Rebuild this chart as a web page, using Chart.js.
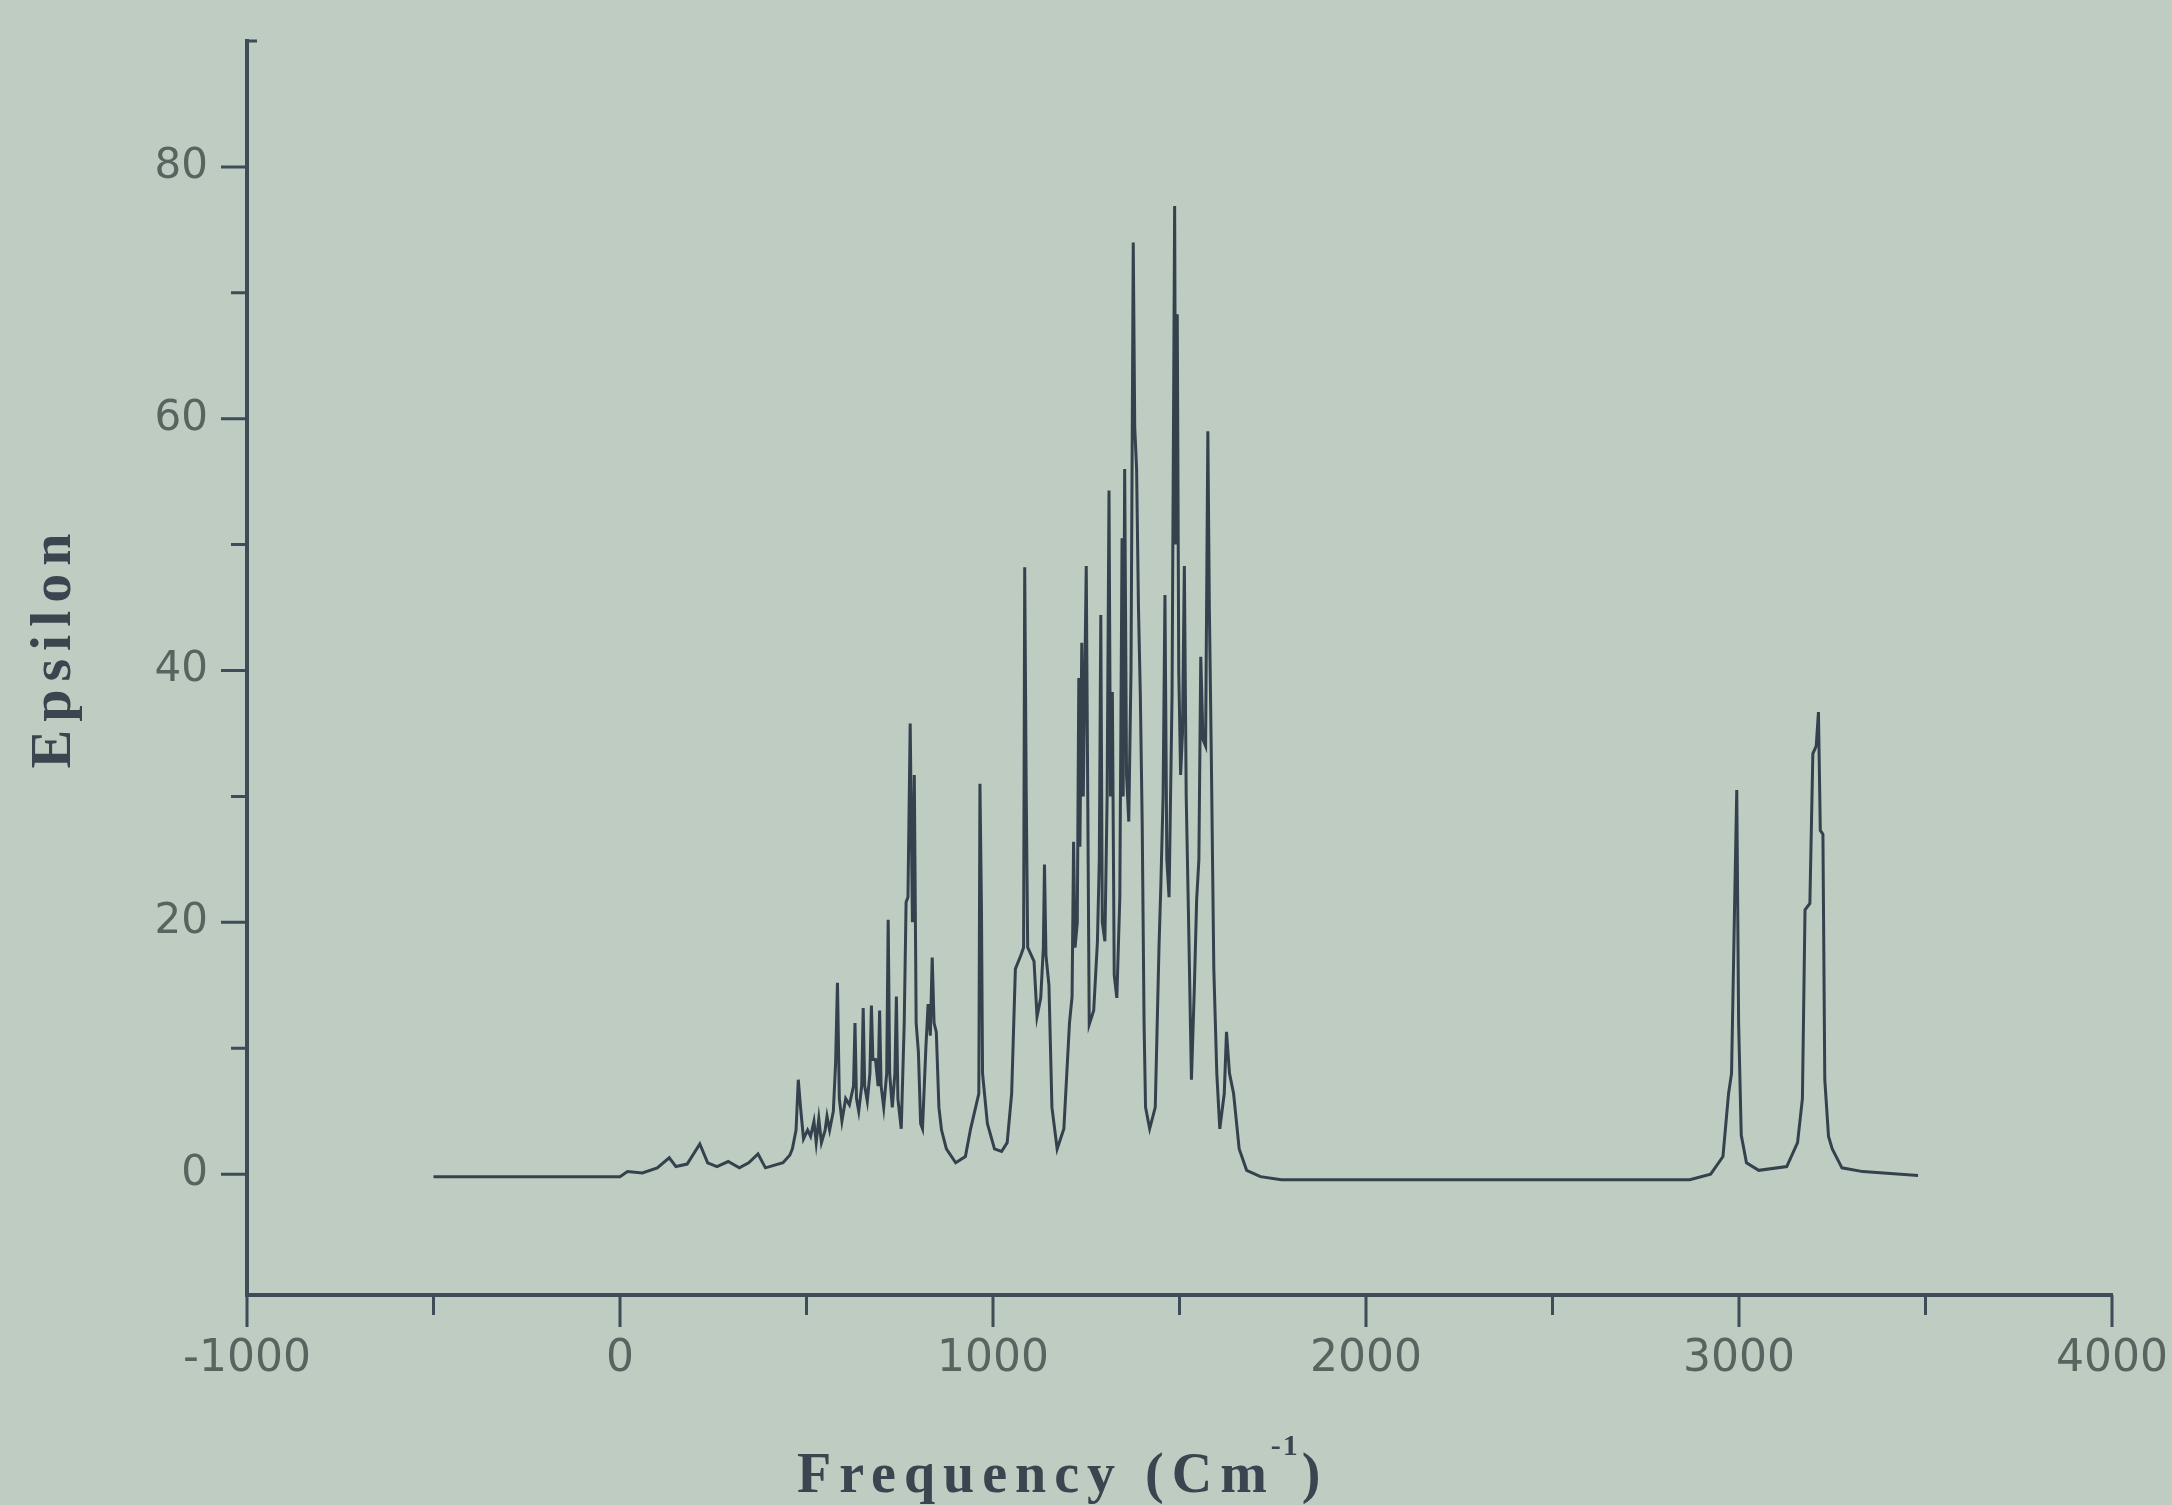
<!DOCTYPE html>
<html>
<head>
<meta charset="utf-8">
<script src="https://cdn.jsdelivr.net/npm/chart.js@4.4.1/dist/chart.umd.min.js"></script>
<style>
  html, body { margin:0; padding:0; background:#bfccc1; }
  canvas { display:block; }
</style>
</head>
<body>
<canvas id="spectrum" width="2172" height="1505"></canvas>
<script>
// ── Data ──
const freq = [
  -500, 0, 20, 60, 100, 132, 150, 180, 214, 235,
  260, 290, 320, 345, 370, 390, 437, 455, 462, 472,
  478, 484, 492, 503, 511, 520, 526, 533, 540, 550,
  555, 562, 572, 578, 583, 588, 595, 605, 615, 626,
  630, 634, 640, 648, 652, 656, 663, 670, 674, 678,
  685, 692, 696, 700, 707, 715, 719, 723, 730, 737,
  741, 745, 754, 762, 767, 772, 778, 784, 789, 794,
  800, 806, 811, 820, 826, 832, 837, 842, 848, 855,
  862, 875, 900, 926, 940, 962, 965, 969, 972, 985,
  1004, 1023, 1038, 1050, 1060, 1075, 1082, 1085, 1089, 1093,
  1101, 1110, 1118, 1128, 1135, 1138, 1142, 1150, 1158, 1172,
  1190, 1205, 1212, 1216, 1220, 1226, 1230, 1233, 1238, 1242,
  1250, 1254, 1258, 1270, 1280, 1285, 1289, 1293, 1300, 1306,
  1311, 1315, 1320, 1325, 1332, 1340, 1346, 1349, 1353, 1358,
  1364, 1370, 1376, 1380, 1385, 1390, 1395, 1400, 1405, 1409,
  1420, 1435, 1445, 1450, 1456, 1461, 1466, 1472, 1480, 1487,
  1490, 1494, 1498, 1503, 1508, 1513, 1518, 1524, 1532, 1540,
  1546, 1552, 1557, 1563, 1570, 1576, 1580, 1585, 1592, 1600,
  1608, 1620, 1626, 1634, 1645, 1660, 1680, 1717, 1773, 2868,
  2924, 2957, 2972, 2980, 2988, 2994, 2999, 3006, 3020, 3053,
  3128, 3157, 3170, 3177, 3190, 3198, 3207, 3213, 3218, 3225,
  3230, 3240, 3250, 3276, 3332, 3480
];
const epsilon = [
  -0.2, -0.2, 0.2, 0.1, 0.5, 1.3, 0.6, 0.8, 2.4, 0.9,
  0.6, 1.0, 0.5, 0.9, 1.6, 0.5, 0.9, 1.5, 2.0, 3.5,
  7.5, 5.3, 2.8, 3.5, 3.0, 4.2, 2.5, 4.4, 2.5, 3.5,
  4.6, 3.5, 5.0, 8.8, 15.2, 6.0, 4.2, 6.0, 5.5, 7.0,
  12.0, 6.0, 5.0, 7.0, 13.2, 7.0, 5.8, 8.0, 13.4, 9.1,
  9.1, 7.0, 13.0, 7.0, 5.3, 8.0, 20.2, 8.0, 5.3, 8.0,
  14.1, 6.0, 3.6, 12.0, 21.6, 22.0, 35.8, 20.0, 31.7, 12.0,
  9.7, 4.0, 3.6, 10.0, 13.5, 11.0, 17.2, 12.0, 11.3, 5.3,
  3.5, 2.0, 0.9, 1.4, 3.6, 6.4, 31.0, 21.3, 8.0, 4.0,
  2.0, 1.8, 2.5, 6.4, 16.3, 17.4, 18.0, 48.2, 30.6, 18.0,
  17.5, 16.9, 12.5, 14.0, 18.0, 24.6, 17.4, 15.0, 5.3, 2.0,
  3.6, 12.0, 14.1, 26.4, 18.0, 20.0, 39.4, 26.0, 42.2, 30.0,
  48.3, 30.0, 11.9, 13.0, 18.5, 25.0, 44.4, 20.0, 18.5, 30.0,
  54.3, 30.0, 38.3, 15.8, 14.0, 22.0, 50.5, 30.0, 56.0, 31.7,
  28.0, 40.0, 74.0, 59.3, 56.0, 45.0, 38.0, 27.9, 12.0, 5.3,
  3.6, 5.3, 18.0, 22.9, 30.0, 46.0, 25.0, 22.0, 38.0, 76.9,
  50.0, 68.3, 40.0, 31.7, 35.0, 48.3, 30.0, 20.7, 7.5, 15.0,
  21.8, 25.0, 41.1, 34.5, 34.0, 59.0, 45.0, 33.9, 16.3, 8.0,
  3.6, 6.4, 11.3, 8.0, 6.4, 2.0, 0.3, -0.2, -0.45, -0.45,
  0.0, 1.4, 6.4, 8.0, 21.0, 30.5, 12.0, 3.1, 0.9, 0.3,
  0.6, 2.5, 6.0, 21.0, 21.5, 33.4, 34.0, 36.7, 27.3, 27.0,
  7.5, 3.0, 2.0, 0.5, 0.2, -0.1
];
const xTicks = [-1000, 0, 1000, 2000, 3000, 4000];
const yTicks = [0, 20, 40, 60, 80];

const INK   = '#35424e';
const AXIS  = '#3f4b57';
const LABEL = '#59635f';

// drop the label overhang padding so the plot box sits where the layout says
function noOverhang(s) {
  s.paddingTop = 0; s.paddingBottom = 0;
  s.paddingLeft = 0; s.paddingRight = 0;
}

// ── Tick marks (long/short) and axis titles ──
const axisDecor = {
  id: 'axisDecor',
  afterDraw(chart) {
    const { ctx, chartArea: a, scales: { x, y } } = chart;
    ctx.save();
    ctx.strokeStyle = AXIS;
    ctx.lineWidth = 3;
    ctx.beginPath();
    x.ticks.forEach(t => {
      const px = x.getPixelForValue(t.value);
      const len = xTicks.includes(t.value) ? 32 : 20;
      ctx.moveTo(px, a.bottom); ctx.lineTo(px, a.bottom + len);
    });
    y.ticks.forEach(t => {
      if (t.value <= y.min || t.value >= y.max) return;
      const py = y.getPixelForValue(t.value);
      const len = yTicks.includes(t.value) ? 26 : 16;
      ctx.moveTo(a.left, py); ctx.lineTo(a.left - len, py);
    });
    ctx.moveTo(a.left - 2, a.top); ctx.lineTo(a.left + 10, a.top);
    ctx.stroke();

    ctx.fillStyle = '#3a4550';
    // y title
    ctx.save();
    ctx.translate(55, 647);
    ctx.rotate(-Math.PI / 2);
    ctx.font = 'bold 58px "Liberation Serif"';
    ctx.letterSpacing = '8px';
    ctx.textAlign = 'center';
    ctx.textBaseline = 'middle';
    ctx.fillText('Epsilon', 0, 0);
    ctx.restore();

    // x title with superscript
    ctx.font = 'bold 56px "Liberation Serif"';
    ctx.letterSpacing = '8px';
    ctx.textAlign = 'left';
    ctx.textBaseline = 'alphabetic';
    const main = 'Frequency (Cm';
    let cx = 797;
    ctx.fillText(main, cx, 1492);
    cx += ctx.measureText(main).width - 4;
    ctx.font = 'bold 30px "Liberation Serif"';
    ctx.letterSpacing = '2px';
    ctx.fillText('-1', cx, 1455);
    cx += ctx.measureText('-1').width + 2;
    ctx.font = 'bold 56px "Liberation Serif"';
    ctx.fillText(')', cx, 1492);
    ctx.restore();
  }
};

new Chart(document.getElementById('spectrum'), {
  type: 'line',
  data: {
    datasets: [{
      data: freq.map((f, i) => ({ x: f, y: epsilon[i] })),
      borderColor: INK, borderWidth: 3, pointRadius: 0, tension: 0, fill: false
    }]
  },
  options: {
    responsive: false, animation: false,
    layout: { padding: { top: 41, right: 60, left: 0, bottom: 0 } },
    plugins: { legend: { display: false }, tooltip: { enabled: false } },
    scales: {
      x: {
        type: 'linear', min: -1000, max: 4000,
        ticks: {
          stepSize: 500, autoSkip: false, maxRotation: 0, padding: 38, color: LABEL,
          font: { family: '"DejaVu Sans"', size: 44 },
          callback: v => xTicks.includes(v) ? (v < 0 ? '-' + Math.abs(v) : String(v)) : ''
        },
        grid: { display: false, drawTicks: false },
        border: { color: AXIS, width: 4 },
        afterFit: s => { s.height = 210; noOverhang(s); }
      },
      y: {
        type: 'linear', min: -9.6, max: 90,
        ticks: {
          stepSize: 10, autoSkip: false, padding: 39, color: LABEL,
          font: { family: '"DejaVu Sans"', size: 42 },
          callback: v => yTicks.includes(v) ? String(v) : ''
        },
        grid: { display: false, drawTicks: false },
        border: { color: AXIS, width: 4 },
        afterFit: s => { s.width = 247; noOverhang(s); }
      }
    }
  },
  plugins: [axisDecor]
});
</script>
</body>
</html>
